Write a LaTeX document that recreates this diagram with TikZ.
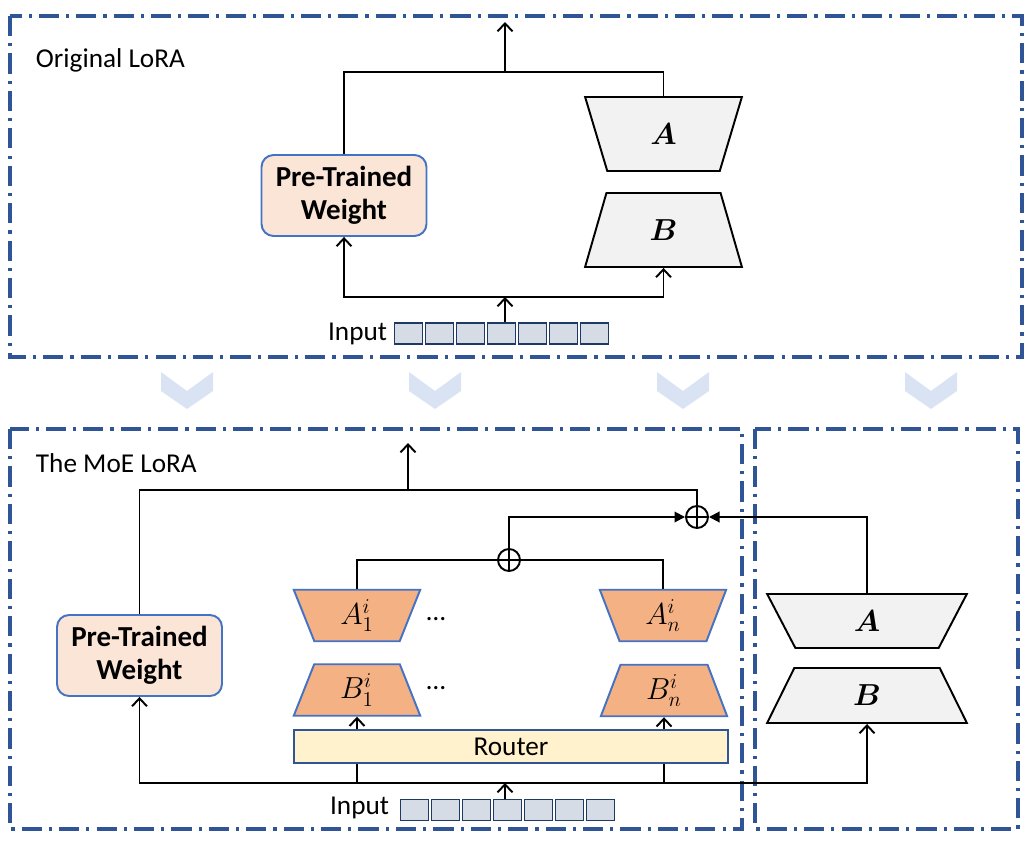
\documentclass[tikz,border=0pt]{standalone}
\usepackage{fontspec}
\setmainfont{Carlito}
\usepackage{amsmath}
\usetikzlibrary{arrows.meta, positioning, shapes.geometric}

\definecolor{frameblue}{HTML}{2F5597}
\definecolor{boxblue}{HTML}{4472C4}
\definecolor{peach}{HTML}{FBE5D6}
\definecolor{expertfill}{HTML}{F4B183}
\definecolor{routerfill}{HTML}{FFF2CC}
\definecolor{cellfill}{HTML}{D6DCE5}
\definecolor{celldraw}{HTML}{203864}
\definecolor{chevfill}{HTML}{DAE3F3}
\definecolor{greyfill}{HTML}{F2F2F2}

\begin{document}
\begin{tikzpicture}[x=0.02cm, y=-0.02cm, >={Straight Barb[length=4.5pt,width=8.5pt]},
  font=\fontsize{15.5}{18}\selectfont, line width=1.1pt]
  \tikzset{
    frame/.style={
      draw=frameblue,
      line width=1.8pt,
      dash pattern=on 11.5pt off 4pt on 1.8pt off 4pt},
    weight/.style={
      rectangle,
      rounded corners=0.24cm,
      draw=boxblue,
      fill=peach,
      minimum width=3.3cm,
      minimum height=1.62cm,
      align=center,
      font=\fontsize{16.5}{18.5}\selectfont\bfseries},
    trapwide/.style={
      trapezium,
      trapezium stretches=true,
      trapezium left angle=104,
      trapezium right angle=104,
      inner sep=0pt,
      font=\fontsize{17.28}{19}\selectfont},
    trapnarrow/.style={
      trapezium,
      trapezium stretches=true,
      trapezium left angle=76,
      trapezium right angle=76,
      inner sep=0pt,
      font=\fontsize{17.28}{19}\selectfont},
    lora/.style={
      draw=black,
      fill=greyfill},
    expert/.style={
      draw=boxblue,
      fill=expertfill,
      minimum width=2.53cm,
      minimum height=1.03cm},
    cell/.style={
      rectangle,
      draw=celldraw,
      fill=cellfill,
      line width=0.9pt,
      minimum width=0.56cm,
      minimum height=0.42cm},
    sumnode/.style={
      circle,
      draw,
      minimum size=0.44cm,
      inner sep=0pt,
      path picture={
        \draw (path picture bounding box.north) -- (path picture bounding box.south)
              (path picture bounding box.west) -- (path picture bounding box.east);}},
    sumarrow/.style={-{Triangle[length=6pt,width=6pt]}},
    chevron/.style={fill=chevfill}}

  \useasboundingbox (0,0) rectangle (1034,851);

  % Original LoRA
  \draw[frame] (10,16) rectangle (1022,357);
  \node[anchor=west, inner sep=0pt] (titleA) at (35,60) {Original LoRA};

  \node[weight] (wA) at (344,195.5) {Pre-Trained\\Weight};
  \node[trapwide, lora, minimum width=3.14cm, minimum height=1.48cm] (loraA) at (663.5,134) {$\boldsymbol{A}$};
  \node[trapnarrow, lora, minimum width=3.14cm, minimum height=1.48cm] (loraB) at (663.5,230) {$\boldsymbol{B}$};

  \foreach \i in {1,...,7}
    \node[cell] (inA-\i) at (377.5+\i*31,333.5) {};
  \node[anchor=east, inner sep=0pt] (inlblA) at (388,334) {Input};

  \coordinate (joinA) at (505,72);
  \coordinate (outA) at (505,22);
  \coordinate (splitA) at (505,297);

  \draw[->] (joinA) -- (outA);
  \draw (wA.north) |- (joinA) -| (loraA.north);
  \draw[->] (inA-4.north -| splitA) -- (splitA);
  \draw[->] (splitA) -| (wA.south);
  \draw[->] (splitA) -| (loraB.south);

  \foreach \cx in {187,435,683,931}
    \fill[chevron] (\cx-26,372) -- (\cx,391) -- (\cx+26,372) -- (\cx+26,391)
      -- (\cx,409) -- (\cx-26,391) -- cycle;

  % The MoE LoRA
  \draw[frame] (10,429) rectangle (742,829);
  \draw[frame] (755,429) rectangle (1018,829);
  \node[anchor=west, inner sep=0pt] (titleB) at (35,463) {The MoE LoRA};

  \node[weight] (wB) at (139.5,655.5) {Pre-Trained\\Weight};
  \node[trapwide, expert] (aOne) at (357,615.5) {$A_1^i$};
  \node[trapnarrow, expert] (bOne) at (357,690) {$B_1^i$};
  \node[trapwide, expert] (aN) at (663,615.5) {$A_n^i$};
  \node[trapnarrow, expert] (bN) at (664,690.5) {$B_n^i$};
  \node (dotsA) at (436,619) {\ldots};
  \node (dotsB) at (436,688) {\ldots};
  \node[rectangle, draw=frameblue, fill=routerfill, line width=0.9pt,
    minimum width=8.68cm, minimum height=0.66cm] (router) at (511,746.5) {Router};

  \node[sumnode] (sumA) at (509,560) {};
  \node[sumnode] (sumB) at (697,517) {};

  \node[trapwide, lora, minimum width=4cm, minimum height=1.08cm] (rA) at (867,621) {$\boldsymbol{A}$};
  \node[trapnarrow, lora, minimum width=4cm, minimum height=1.1cm] (rB) at (867,695.5) {$\boldsymbol{B}$};

  \foreach \i in {1,...,7}
    \node[cell] (inB-\i) at (383.5+\i*31,810) {};
  \node[anchor=east, inner sep=0pt] (inlblB) at (390,808) {Input};

  \coordinate (joinB) at (408,490);
  \coordinate (outB) at (408,443);
  \coordinate (splitB) at (505,783);

  \draw[->] (joinB) -- (outB);
  \draw (wB.north) |- (joinB) -| (sumB.north);
  \draw (aOne.north) |- (sumA.west);
  \draw (aN.north) |- (sumA.east);
  \draw[sumarrow] (sumA.north) |- (sumB.west);
  \draw[sumarrow] (rA.north) |- (sumB.east);

  \draw[->] (inB-4.north -| splitB) -- (splitB);
  \draw[->] (splitB) -| (wB.south);
  \draw[->] (splitB) -| (rB.south);
  \draw (bOne.south |- splitB) -- (bOne.south |- router.south);
  \draw (bN.south |- splitB) -- (bN.south |- router.south);
  \draw[->] (bOne.south |- router.north) -- (bOne.south);
  \draw[->] (bN.south |- router.north) -- (bN.south);

\end{tikzpicture}
\end{document}
